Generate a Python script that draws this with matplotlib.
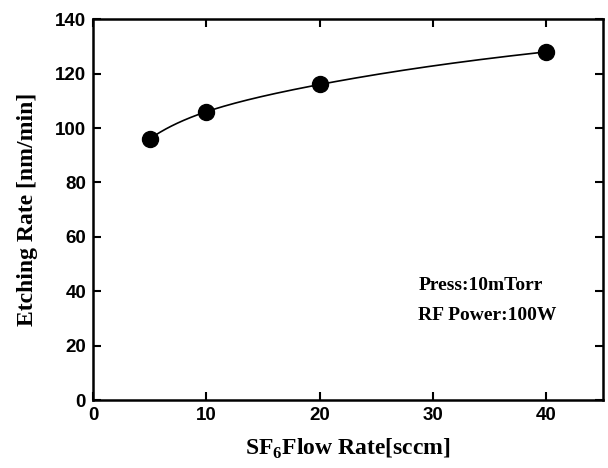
import matplotlib
matplotlib.use("Agg")
import matplotlib.pyplot as plt
import numpy as np

# data
flow_rate = [5, 10, 20, 40]          # SF6 flow rate [sccm]
etch_rate = [96, 106, 116, 128]      # etching rate [nm/min]
x_ticks = [0, 10, 20, 30, 40]
y_ticks = [0, 20, 40, 60, 80, 100, 120, 140]


def natural_spline(x, y, n=200):
    # natural cubic spline through the measured points (for the smooth guide line)
    x = np.asarray(x, float)
    y = np.asarray(y, float)
    h = np.diff(x)
    m = len(x)
    A = np.zeros((m, m))
    b = np.zeros(m)
    A[0, 0] = A[-1, -1] = 1
    for i in range(1, m - 1):
        A[i, i - 1] = h[i - 1]
        A[i, i] = 2 * (h[i - 1] + h[i])
        A[i, i + 1] = h[i]
        b[i] = 6 * ((y[i + 1] - y[i]) / h[i] - (y[i] - y[i - 1]) / h[i - 1])
    M = np.linalg.solve(A, b)
    xs = np.linspace(x[0], x[-1], n)
    idx = np.clip(np.searchsorted(x, xs) - 1, 0, m - 2)
    x0, x1 = x[idx], x[idx + 1]
    hh = x1 - x0
    ys = (M[idx] * (x1 - xs) ** 3 / (6 * hh) + M[idx + 1] * (xs - x0) ** 3 / (6 * hh)
          + (y[idx] / hh - M[idx] * hh / 6) * (x1 - xs)
          + (y[idx + 1] / hh - M[idx + 1] * hh / 6) * (xs - x0))
    return xs, ys


plt.rcParams['mathtext.fontset'] = 'custom'
plt.rcParams['mathtext.rm'] = 'Liberation Serif:bold'
plt.rcParams['mathtext.bf'] = 'Liberation Serif:bold'

fig = plt.figure(figsize=(6.08, 4.68), dpi=100)
ax = fig.add_axes([0.153, 0.145, 0.839, 0.814])

# smooth the guide line in log(x) so it stays concave like the original
lx, ys = natural_spline(np.log(flow_rate), etch_rate)
ax.plot(np.exp(lx), ys, color='black', lw=1.2)
ax.plot(flow_rate, etch_rate, 'o', color='black', markersize=11.5)

ax.set_xlim(0, 45)
ax.set_ylim(0, 140)
ax.set_xticks(x_ticks)
ax.set_yticks(y_ticks)
ax.tick_params(direction='in', top=True, right=True, length=6, width=1.5,
               labelsize=13.5, pad=5)
for lab in ax.get_xticklabels() + ax.get_yticklabels():
    lab.set_fontfamily('Liberation Sans')
    lab.set_fontweight('bold')
for sp in ax.spines.values():
    sp.set_linewidth(1.8)

ax.set_xlabel('SF$_{6}$Flow Rate[sccm]', fontfamily='Liberation Serif',
              fontweight='bold', fontsize=17, labelpad=9)
ax.set_ylabel('Etching Rate [nm/min]', fontfamily='Liberation Serif',
              fontweight='bold', fontsize=17, labelpad=12)

ax.text(28.7, 42.3, 'Press:10mTorr', fontfamily='Liberation Serif',
        fontweight='bold', fontsize=14, va='center')
ax.text(28.7, 31.2, 'RF Power:100W', fontfamily='Liberation Serif',
        fontweight='bold', fontsize=14, va='center')

fig.savefig('out.png', dpi=100)
